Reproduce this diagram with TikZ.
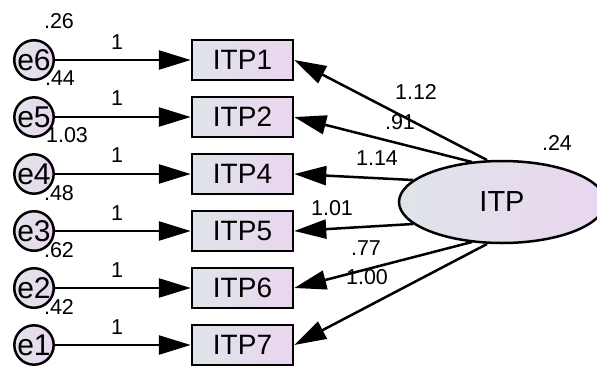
\documentclass[tikz,border=0pt]{standalone}
\usepackage{fontspec}
\setmainfont{Liberation Sans}
\usetikzlibrary{arrows.meta,calc,shapes.geometric}
\definecolor{fillL}{HTML}{DFE4E9}
\definecolor{fillR}{HTML}{EAD6EF}
\tikzset{
  obs/.style={draw=black,line width=2.5pt,left color=fillL,right color=fillR,minimum width=101pt,minimum height=40pt,inner sep=0pt,font=\fontsize{28}{28}\selectfont},
  err/.style={circle,draw=black,line width=2.5pt,left color=fillL,right color=fillR,minimum size=36pt,inner sep=0pt,font=\fontsize{30}{30}\selectfont},
  lat/.style={ellipse,draw=black,line width=2.5pt,left color=fillL,right color=fillR,minimum width=206pt,minimum height=82pt,inner sep=0pt,font=\fontsize{29}{29}\selectfont},
  arr/.style={line width=2.5pt,-{Triangle[length=32pt,width=19pt]}},
  lbl/.style={inner sep=0pt,font=\fontsize{21.5}{21.5}\selectfont}
}
\begin{document}
\begin{tikzpicture}[x=1pt,y=-1pt]
\useasboundingbox (0,0) rectangle (597,365);
\clip (0,0) rectangle (597,365);
% observed boxes
\node[obs] (b1) at (242.5,60) {ITP1};
\node[obs] (b2) at (242.5,117) {ITP2};
\node[obs] (b4) at (242.5,174) {ITP4};
\node[obs] (b5) at (242.5,231) {ITP5};
\node[obs] (b6) at (242.5,288) {ITP6};
\node[obs] (b7) at (242.5,345) {ITP7};
% error circles
\node[err] (e6) at (34,60) {e6};
\node[err] (e5) at (34,117) {e5};
\node[err] (e4) at (34,174) {e4};
\node[err] (e3) at (34,231) {e3};
\node[err] (e2) at (34,288) {e2};
\node[err] (e1) at (34,345) {e1};
% latent
\node[lat] (ITP) at (502,202) {ITP};
% start points on latent border
\path (ITP.center) ++(-15,-42) coordinate (s1);
\path (ITP.center) ++(-30,-40) coordinate (s2);
\path (ITP.center) ++(-89,-22) coordinate (s4);
\path (ITP.center) ++(-89,22) coordinate (s5);
\path (ITP.center) ++(-30,40) coordinate (s6);
\path (ITP.center) ++(-15,42) coordinate (s7);
% error arrows
\draw[arr] (e6) -- (b1);
\draw[arr] (e5) -- (b2);
\draw[arr] (e4) -- (b4);
\draw[arr] (e3) -- (b5);
\draw[arr] (e2) -- (b6);
\draw[arr] (e1) -- (b7);
% loading arrows
\draw[arr] (s1) -- (b1.east);
\draw[arr] (s2) -- (b2.east);
\draw[arr] (s4) -- (b4.east);
\draw[arr] (s5) -- (b5.east);
\draw[arr] (s6) -- (b6.east);
\draw[arr] (s7) -- (b7.east);
% variance labels
\node[lbl] (v6) at (59,21) {.26};
\node[lbl] (v5) at (60,78) {.44};
\node[lbl] (v4) at (67,135) {1.03};
\node[lbl] (v3) at (59,193) {.48};
\node[lbl] (v2) at (59,250) {.62};
\node[lbl] (v1) at (59,307) {.42};
\node[lbl] (vI) at (557,143) {.24};
% fixed weights
\node[lbl] (w6) at (117,42) {1};
\node[lbl] (w5) at (117,98) {1};
\node[lbl] (w4) at (117,155) {1};
\node[lbl] (w3) at (117,213) {1};
\node[lbl] (w2) at (117,270) {1};
\node[lbl] (w1) at (117,327) {1};
% loadings
\node[lbl] (l1) at (416,92) {1.12};
\node[lbl] (l2) at (400,122) {.91};
\node[lbl] (l4) at (377,158) {1.14};
\node[lbl] (l5) at (332,208) {1.01};
\node[lbl] (l6) at (366,248) {.77};
\node[lbl] (l7) at (367,277) {1.00};
\end{tikzpicture}
\end{document}
